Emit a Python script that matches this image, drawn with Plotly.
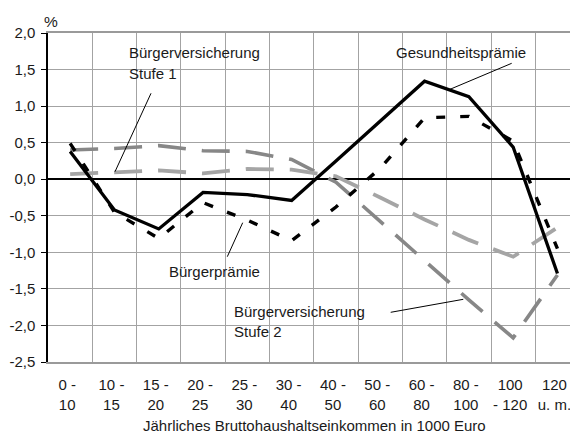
import plotly.graph_objects as go

# ---- data ----
categories = ["0 -<br>10", "10 -<br>15", "15 -<br>20", "20 -<br>25", "25 -<br>30",
              "30 -<br>40", "40 -<br>50", "50 -<br>60", "60 -<br>80", "80 -<br>100",
              "100<br>- 120", "120<br>u. m."]
gesundheitspraemie = [0.38, -0.42, -0.68, -0.18, -0.21, -0.29, 0.25, 0.80, 1.34, 1.13, 0.44, -1.29]
buergerpraemie = [0.49, -0.45, -0.81, -0.32, -0.56, -0.84, -0.38, 0.15, 0.84, 0.86, 0.52, -0.95]
bv_stufe1 = [0.07, 0.09, 0.12, 0.08, 0.14, 0.13, 0.04, -0.25, -0.55, -0.83, -1.06, -0.66]
bv_stufe2 = [0.40, 0.42, 0.46, 0.39, 0.38, 0.27, -0.04, -0.58, -1.12, -1.65, -2.17, -1.31]
y_tickvals = [2.0, 1.5, 1.0, 0.5, 0.0, -0.5, -1.0, -1.5, -2.0, -2.5]
y_ticktext = ["2,0", "1,5", "1,0", "0,5", "0,0", "-0,5", "-1,0", "-1,5", "-2,0", "-2,5"]
x_title = "Jährliches Bruttohaushaltseinkommen in 1000 Euro"

# the page body has an 8px margin, so the figure is 8px smaller than the window
OFF = 8
W, H = 578 - OFF, 435 - OFF
PL, PT, PB = 48, 33, 362          # plot edges in window pixels
ML, MT = PL - OFF, PT - OFF
PH = PB - PT
MB = H - MT - PH
MR = 0
PW = W - ML - MR
CATW = 44.3
FONT = "Liberation Sans, Arial, Helvetica, sans-serif"
TXT = "#1a1a1a"


def px(x, y):
    """window pixel -> paper fraction"""
    return (x - PL) / PW, (PB - y) / PH


fig = go.Figure()
fig.add_trace(go.Scatter(x=categories, y=bv_stufe2, mode="lines", name="Bürgerversicherung Stufe 2",
                         line=dict(color="#878787", width=3.6, dash="28px,16px")))
fig.add_trace(go.Scatter(x=categories, y=bv_stufe1, mode="lines", name="Bürgerversicherung Stufe 1",
                         line=dict(color="#a5a5a5", width=3.8, dash="28px,16px")))
fig.add_trace(go.Scatter(x=categories, y=buergerpraemie, mode="lines", name="Bürgerprämie",
                         line=dict(color="#000000", width=3.4, dash="9px,15px")))
fig.add_trace(go.Scatter(x=categories, y=gesundheitspraemie, mode="lines", name="Gesundheitsprämie",
                         line=dict(color="#000000", width=3.3)))

shapes = []
# white label boxes hiding the grid
for (x0, y0, x1, y1) in [(121.7, 34, 293.3, 94), (390, 34, 559.3, 80),
                         (163, 254.5, 296, 288.5), (226.7, 298, 396.7, 360)]:
    a0, b0 = px(x0, y0)
    a1, b1 = px(x1, y1)
    shapes.append(dict(type="rect", xref="paper", yref="paper", x0=a0, y0=b1, x1=a1, y1=b0,
                       fillcolor="white", line=dict(width=0), layer="between"))
# leader lines
for (x0, y0, x1, y1) in [(151, 93.3, 115, 171.7), (511.7, 63.3, 450, 89.3),
                         (227.3, 256.7, 242.7, 222.7), (390.7, 312.3, 463.3, 299.3)]:
    a0, b0 = px(x0, y0)
    a1, b1 = px(x1, y1)
    shapes.append(dict(type="line", xref="paper", yref="paper", x0=a0, y0=b0, x1=a1, y1=b1,
                       line=dict(color="black", width=1)))

annotations = []
for text, x, y, anchor, size in [
    ("Bürgerversicherung", 127, 52.3, "left", 15),
    ("Stufe 1", 127, 73.3, "left", 15),
    ("Gesundheitsprämie", 461, 52.3, "center", 15),
    ("Bürgerprämie", 214.7, 271.7, "center", 15),
    ("Bürgerversicherung", 231.7, 311.7, "left", 15),
    ("Stufe 2", 231.7, 331.7, "left", 15),
    ("%", 51, 21, "center", 15.5),
    (x_title, 314, 425, "center", 15),
]:
    a, b = px(x, y)
    annotations.append(dict(text=text, x=a, y=b, xref="paper", yref="paper", xanchor=anchor,
                            yanchor="middle", showarrow=False,
                            font=dict(family=FONT, size=size, color=TXT)))

xr = [-0.5, -0.5 + PW / CATW]
fig.update_layout(
    width=W, height=H, margin=dict(l=ML, r=MR, t=MT, b=MB, pad=0),
    paper_bgcolor="white", plot_bgcolor="white", showlegend=False,
    font=dict(family=FONT, size=15, color=TXT),
    shapes=shapes, annotations=annotations,
    xaxis=dict(type="category", range=xr, tickson="boundaries", ticks="", showgrid=True,
               gridcolor="#a3a3a3", gridwidth=1, showline=True, linecolor="#9a9a9a", linewidth=2,
               mirror=True, ticklabelstandoff=8, ticklabelshift=-3, tickfont=dict(size=15),
               fixedrange=True),
    xaxis2=dict(overlaying="x", anchor="free", position=2.5 / 4.5, range=xr,
                tickvals=[k + 0.5 for k in range(11)], ticks="outside", ticklen=5,
                tickcolor="black", tickwidth=1.5, showticklabels=False, showgrid=False,
                showline=False, zeroline=False),
    yaxis=dict(range=[-2.5, 2.0], tickvals=y_tickvals, ticktext=y_ticktext, showgrid=True,
               gridcolor="#a3a3a3", gridwidth=1, zeroline=True, zerolinecolor="black",
               zerolinewidth=1.6, showline=True, linecolor="black", linewidth=1.5,
               ticks="outside", ticklen=5, tickcolor="black", tickwidth=1,
               ticklabelstandoff=3, tickfont=dict(size=15)),
)
fig.write_html("out.html")
